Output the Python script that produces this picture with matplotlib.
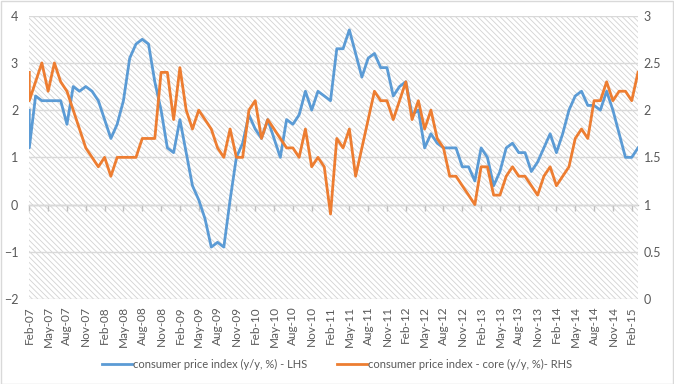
import matplotlib
matplotlib.use("Agg")
import matplotlib.pyplot as plt
from matplotlib.patches import Rectangle
from matplotlib.lines import Line2D

# month index (0 = Feb-07); the first month carries two readings
month_idx = [0] + list(range(0, 98))

# consumer price index, y/y %, left axis
cpi = [2.0, 1.2, 2.3, 2.2, 2.2, 2.2, 2.2, 1.7, 2.5, 2.4, 2.5, 2.4,          # Feb-07 .. Dec-07
       2.2, 1.8, 1.4, 1.7, 2.2, 3.1, 3.4, 3.5, 3.4, 2.6, 2.0, 1.2,          # 2008
       1.1, 1.8, 1.1, 0.4, 0.1, -0.3, -0.9, -0.8, -0.9, 0.1, 1.0, 1.3,      # 2009
       1.9, 1.6, 1.4, 1.8, 1.4, 1.0, 1.8, 1.7, 1.9, 2.4, 2.0, 2.4,          # 2010
       2.3, 2.2, 3.3, 3.3, 3.7, 3.2, 2.7, 3.1, 3.2, 2.9, 2.9, 2.3,          # 2011
       2.5, 2.6, 1.9, 2.0, 1.2, 1.5, 1.3, 1.2, 1.2, 1.2, 0.8, 0.8,          # 2012
       0.5, 1.2, 1.0, 0.4, 0.7, 1.2, 1.3, 1.1, 1.1, 0.7, 0.9, 1.2,          # 2013
       1.5, 1.1, 1.5, 2.0, 2.3, 2.4, 2.1, 2.1, 2.0, 2.4, 2.0, 1.5,          # 2014
       1.0, 1.0, 1.2]                                                       # 2015

# core consumer price index, y/y %, right axis
core = [2.4, 2.1, 2.3, 2.5, 2.2, 2.5, 2.3, 2.2, 2.0, 1.8, 1.6, 1.5,
        1.4, 1.5, 1.3, 1.5, 1.5, 1.5, 1.5, 1.7, 1.7, 1.7, 2.4, 2.4,
        1.9, 2.45, 2.0, 1.8, 2.0, 1.9, 1.8, 1.6, 1.5, 1.8, 1.5, 1.5,
        2.0, 2.1, 1.7, 1.9, 1.8, 1.7, 1.6, 1.6, 1.5, 1.8, 1.4, 1.5,
        1.4, 0.9, 1.7, 1.6, 1.8, 1.3, 1.6, 1.9, 2.2, 2.1, 2.1, 1.9,
        2.1, 2.3, 1.9, 2.1, 1.8, 2.0, 1.7, 1.6, 1.3, 1.3, 1.2, 1.1,
        1.0, 1.4, 1.4, 1.1, 1.1, 1.3, 1.4, 1.3, 1.3, 1.2, 1.1, 1.3,
        1.4, 1.2, 1.3, 1.4, 1.7, 1.8, 1.7, 2.1, 2.1, 2.3, 2.1, 2.2,
        2.2, 2.1, 2.4]

tick_labels = ["Feb-07", "May-07", "Aug-07", "Nov-07", "Feb-08", "May-08", "Aug-08", "Nov-08",
               "Feb-09", "May-09", "Aug-09", "Nov-09", "Feb-10", "May-10", "Aug-10", "Nov-10",
               "Feb-11", "May-11", "Aug-11", "Nov-11", "Feb-12", "May-12", "Aug-12", "Nov-12",
               "Feb-13", "May-13", "Aug-13", "Nov-13", "Feb-14", "May-14", "Aug-14", "Nov-14",
               "Feb-15"]
tick_pos = list(range(0, 97, 3))

left_ticks = [-2, -1, 0, 1, 2, 3, 4]
right_ticks = [0, 0.5, 1, 1.5, 2, 2.5, 3]
right_labels = ["0", "0.5", "1", "1.5", "2", "2.5", "3"]

label_cpi = "consumer price index (y/y, %) - LHS"
label_core = "consumer price index - core (y/y, %)- RHS"

BLUE = "#5B9BD5"
ORANGE = "#ED7D31"
GRID = "#D9D9D9"
TXT = "#595959"

plt.rcParams["font.family"] = ["Lato", "DejaVu Sans"]
plt.rcParams["hatch.color"] = "#D2D2D2"
plt.rcParams["hatch.linewidth"] = 0.6

fig = plt.figure(figsize=(6.74, 3.84), dpi=100)
ax = fig.add_axes([29.3 / 674, 1 - 299 / 384, (638 - 29.3) / 674, (299 - 15.7) / 384])

# hatched plot area
ax.add_patch(Rectangle((0, 0), 1, 1, transform=ax.transAxes, facecolor="white",
                       edgecolor="#D2D2D2", hatch="\\" * 6, lw=0, zorder=0))

ax.plot(month_idx, cpi, color=BLUE, lw=2.0, zorder=3, solid_joinstyle="round")
ax.set_ylim(-2, 4)
ax.set_yticks(left_ticks)
ax.set_xlim(0, 97)
ax.grid(axis="y", color=GRID, lw=1.0, zorder=1)
ax.set_axisbelow(True)

ax2 = ax.twinx()
ax2.plot(month_idx, core, color=ORANGE, lw=2.0, zorder=3, solid_joinstyle="round")
ax2.set_ylim(0, 3)
ax2.set_yticks(right_ticks)
ax2.set_yticklabels(right_labels)

for a in (ax, ax2):
    for s in a.spines.values():
        s.set_visible(False)

ax.tick_params(axis="y", length=0, labelsize=9, labelcolor=TXT, pad=8)
ax2.tick_params(axis="y", length=0, labelsize=9, labelcolor=TXT, pad=4)

# category labels at the bottom, rotated
ax.set_xticks(tick_pos)
ax.set_xticklabels(tick_labels, rotation=90, fontsize=8.5, color=TXT)
ax.tick_params(axis="x", length=0, pad=5)

# horizontal axis line crossing at 0 with tick marks
sec = ax.secondary_xaxis(1 / 3)
sec.set_xticks(tick_pos)
sec.set_xticklabels([])
sec.tick_params(axis="x", direction="out", length=4, color="#BFBFBF", width=1)
sec.spines["bottom"].set_color("#BFBFBF")
sec.spines["bottom"].set_linewidth(1)

handles = [Line2D([], [], color=BLUE, lw=2), Line2D([], [], color=ORANGE, lw=2)]
fig.legend(handles, [label_cpi, label_core], loc="center", ncol=2,
           bbox_to_anchor=(0.5, 1 - 364 / 384), frameon=False, fontsize=8,
           labelcolor=TXT, handlelength=2.7, columnspacing=2.6, handletextpad=0.1)

# chart border
fig.patches.append(Rectangle((0.5 / 674, 0.5 / 384), 1 - 1.5 / 674, 1 - 1.5 / 384,
                             transform=fig.transFigure, fill=False, edgecolor=GRID, lw=1))

fig.savefig("out.png", dpi=100)
